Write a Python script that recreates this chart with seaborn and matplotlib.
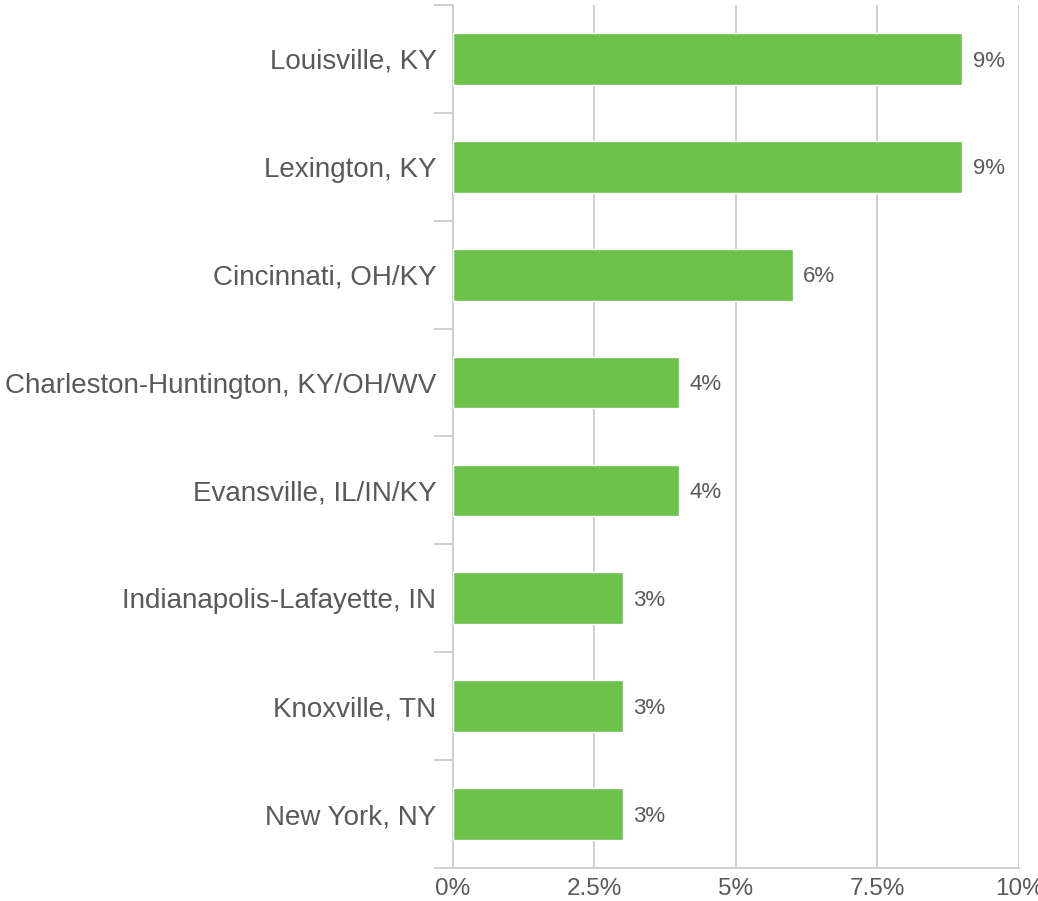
import matplotlib
matplotlib.use("Agg")
import matplotlib.pyplot as plt
import seaborn as sns
import pandas as pd
import numpy as np
from matplotlib.ticker import FixedLocator

markets = [
    "Louisville, KY",
    "Lexington, KY",
    "Cincinnati, OH/KY",
    "Charleston-Huntington, KY/OH/WV",
    "Evansville, IL/IN/KY",
    "Indianapolis-Lafayette, IN",
    "Knoxville, TN",
    "New York, NY",
]
shares = [9, 9, 6, 4, 4, 3, 3, 3]
x_ticks = [0, 2.5, 5, 7.5, 10]
x_tick_labels = ["0%", "2.5%", "5%", "7.5%", "10%"]

df = pd.DataFrame({"market": markets, "share": shares})

sns.set_theme(style="white")
plt.rcParams["font.family"] = ["Liberation Sans", "DejaVu Sans"]

text_color = "#595959"
grid_color = "#cfcfcf"
bar_color = "#6cc24a"

fig = plt.figure(figsize=(10.38, 9.01), dpi=100)
ax = fig.add_axes([0.4364, 0.0366, 0.5453, 0.9579])

sns.barplot(data=df, x="share", y="market", orient="h", color=bar_color,
            width=0.48, saturation=1, ax=ax, zorder=3)

ax.set_xlim(0, 10)
ax.set_ylim(len(markets) - 0.5, -0.5)
ax.set_xlabel("")
ax.set_ylabel("")

ax.set_xticks(x_ticks)
ax.set_xticklabels(x_tick_labels)
ax.grid(axis="x", color=grid_color, linewidth=1.4, zorder=0)
ax.grid(axis="y", visible=False)
ax.set_axisbelow(True)

for side in ("top", "right"):
    ax.spines[side].set_visible(False)
for side in ("left", "bottom"):
    ax.spines[side].set_color(grid_color)
    ax.spines[side].set_linewidth(1.4)

# category separators drawn as minor ticks reaching left of the axis
ax.yaxis.set_minor_locator(FixedLocator(np.arange(-0.5, len(markets), 1.0)))
ax.tick_params(axis="y", which="minor", length=14, width=1.4, color=grid_color, left=True)
ax.tick_params(axis="y", which="major", length=0, pad=12, labelsize=20, labelcolor=text_color)
ax.tick_params(axis="x", which="major", length=0, pad=7.5, labelsize=17.5, labelcolor=text_color)

for i, v in enumerate(shares):
    ax.text(v + 0.18, i + 0.02, f"{v}%", va="center", ha="left", fontsize=16, color=text_color)

fig.savefig("out.png", dpi=100)
